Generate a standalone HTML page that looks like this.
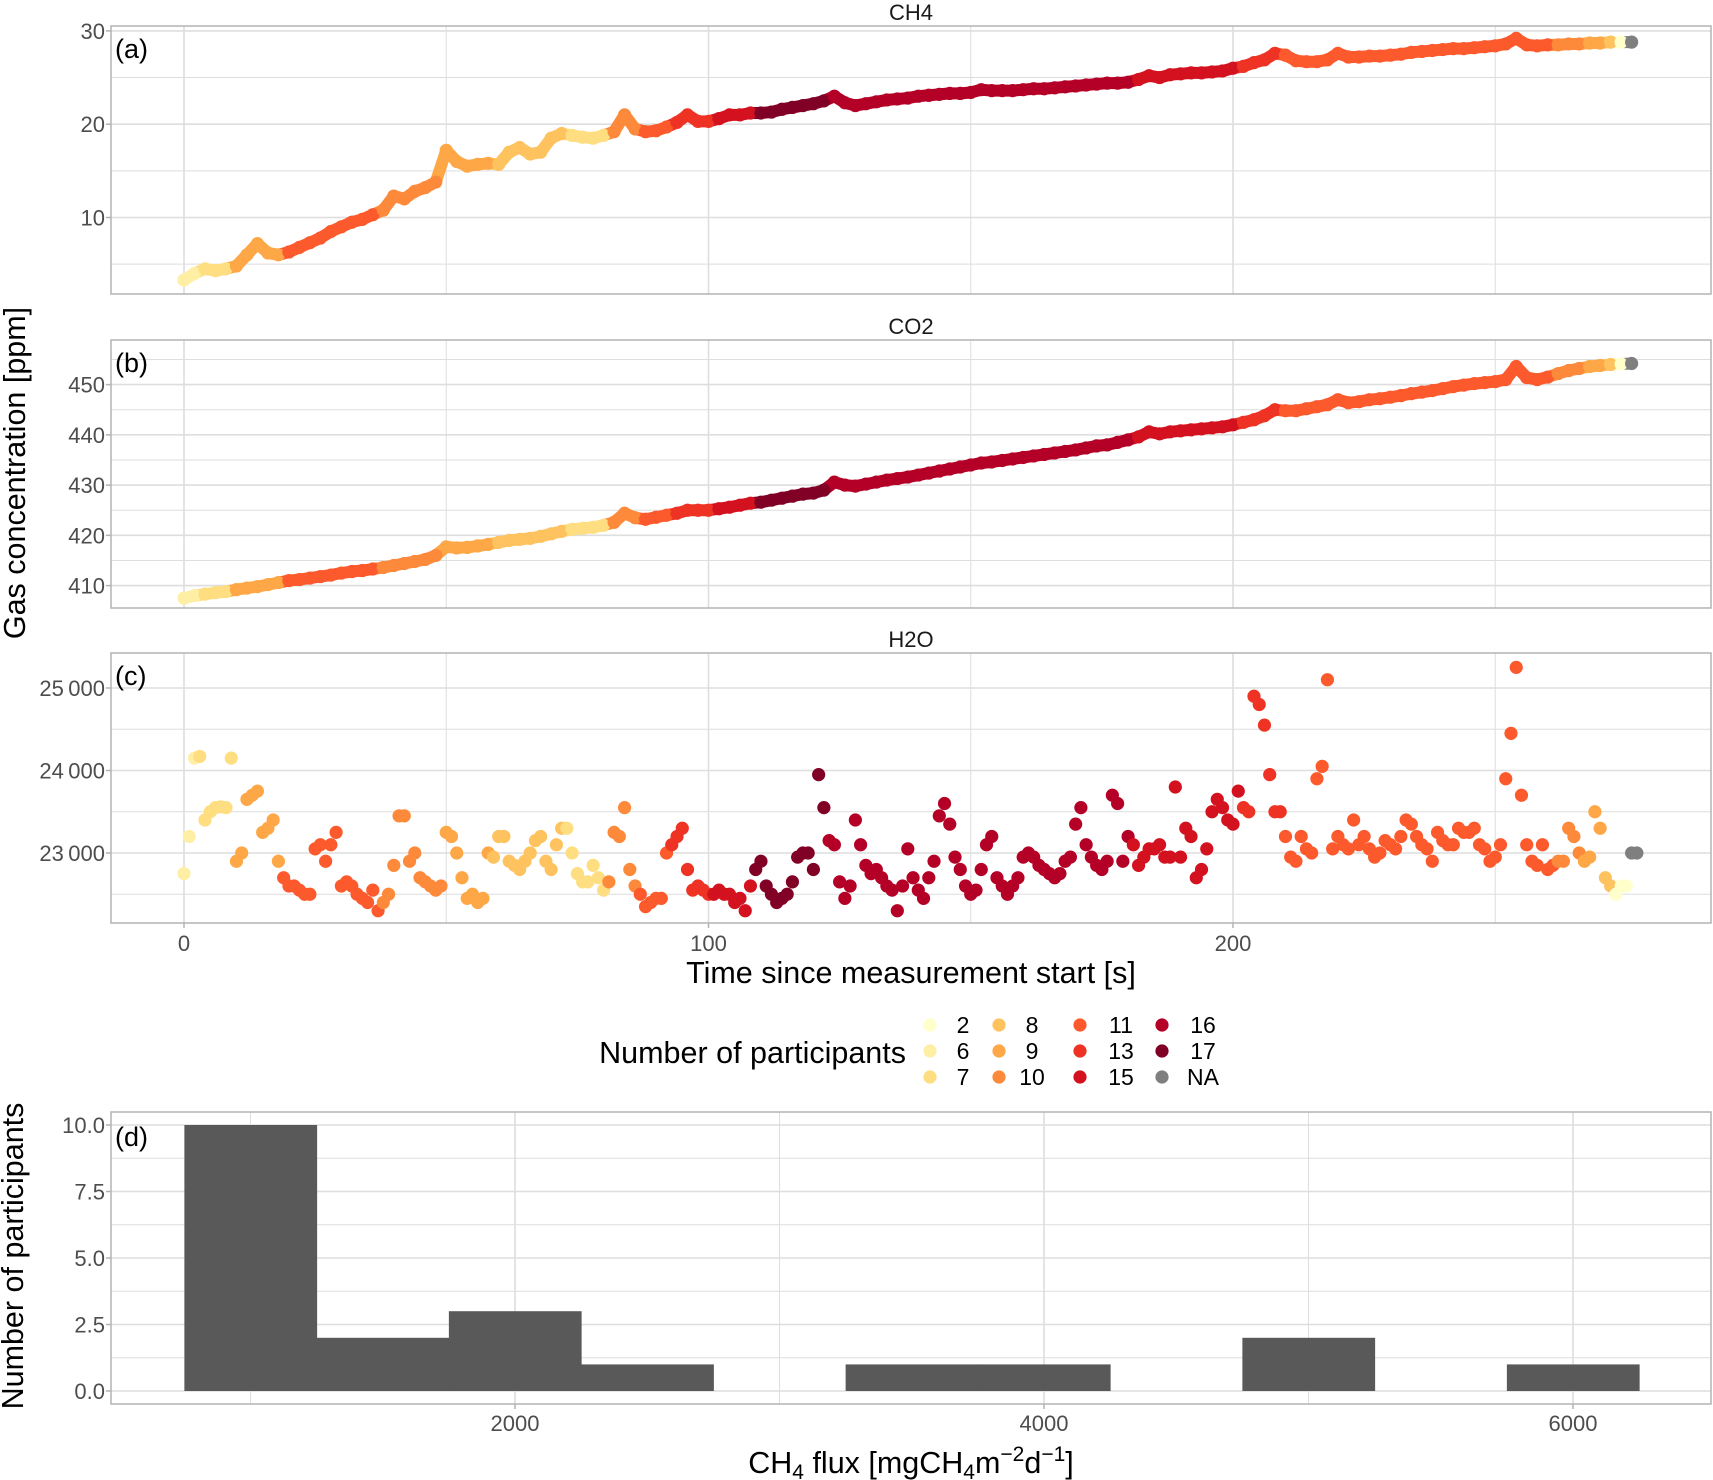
<!DOCTYPE html>
<html><head><meta charset="utf-8">
<style>
html,body{margin:0;padding:0;background:#fff;}
svg{display:block;font-family:"Liberation Sans",sans-serif;}
</style></head>
<body>
<svg id="chart" width="1713" height="1480" viewBox="0 0 1713 1480" xmlns="http://www.w3.org/2000/svg"></svg>
<script>
// ---------- DATA ----------
// CH4 [ppm] sampled every 2 s from t=0
const ch4Values = [3.3,4,4.5,4.3,4.5,4.8,6,7.2,6.2,6,6.3,6.8,7.3,7.8,8.5,9,9.5,9.8,10.3,10.8,12.3,12,12.8,13.2,13.8,17.2,16,15.5,15.7,15.8,15.7,17,17.5,16.8,17,18.5,19,18.8,18.6,18.5,18.8,19.2,21,19.5,19.2,19.3,19.7,20.2,21,20.3,20.3,20.6,21,21,21.2,21.2,21.3,21.6,21.8,22,22.2,22.5,23,22.3,22,22.2,22.4,22.6,22.7,22.8,23,23.1,23.2,23.3,23.3,23.4,23.7,23.6,23.6,23.6,23.7,23.8,23.8,23.9,24,24.1,24.2,24.3,24.4,24.4,24.5,24.8,25.2,25,25.3,25.4,25.5,25.5,25.6,25.7,26,26.2,26.6,26.9,27.6,27.4,26.8,26.7,26.7,26.9,27.6,27.2,27.2,27.3,27.3,27.4,27.5,27.7,27.8,27.9,28,28.1,28.1,28.2,28.3,28.4,28.6,29.2,28.5,28.4,28.5,28.5,28.6,28.6,28.7,28.7,28.8,28.8,28.8];
// CO2 [ppm] sampled every 2 s from t=0
const co2Values = [407.5,408,408.3,408.6,408.8,409.2,409.5,409.8,410.2,410.6,411,411.2,411.5,411.8,412.1,412.5,412.8,413,413.3,413.6,414,414.4,414.8,415.2,416,417.7,417.5,417.6,417.9,418.2,418.6,419,419.2,419.4,419.8,420.3,420.8,421.2,421.4,421.6,422,422.6,424.4,423.5,423.2,423.6,424,424.4,425,425,425,425.3,425.6,426,426.4,426.6,427,427.4,427.8,428.2,428.4,429,430.6,430,429.8,430.2,430.6,431,431.3,431.6,432,432.4,432.8,433.2,433.6,434,434.4,434.6,434.9,435.2,435.5,435.8,436.1,436.4,436.7,437,437.4,437.8,438,438.5,439,439.6,440.6,440.2,440.6,440.8,441,441.2,441.4,441.6,442,442.5,443,443.8,445,444.8,444.8,445.2,445.6,446,447,446.4,446.6,447,447.2,447.5,447.8,448.2,448.5,448.8,449.2,449.6,449.9,450.2,450.4,450.6,451,453.6,451.4,451,451.5,452.2,452.8,453.2,453.6,453.8,454,454.1,454.2];
// H2O [ppm] sampled every 1 s from t=0
const h2oValues = [22750,23200,24150,24170,23400,23500,23550,23560,23550,24150,
22900,23000,23650,23700,23750,23250,23300,23400,22900,22700,
22600,22600,22550,22500,22500,23050,23100,22900,23100,23250,
22600,22650,22600,22500,22450,22400,22550,22300,22400,22500,
22850,23450,23450,22900,23000,22700,22650,22600,22550,22600,
23250,23200,23000,22700,22450,22500,22400,22450,23000,22950,
23200,23200,22900,22850,22800,22900,23000,23150,23200,22900,
22800,23100,23300,23300,23000,22750,22650,22650,22850,22700,
22550,22650,23250,23200,23550,22800,22600,22500,22350,22400,
22450,22450,23000,23100,23200,23300,22800,22550,22600,22550,
22500,22500,22550,22500,22500,22400,22450,22300,22600,22800,
22900,22600,22500,22400,22450,22500,22650,22950,23000,23000,
22800,23950,23550,23150,23100,22650,22450,22600,23400,23100,
22850,22750,22800,22700,22600,22550,22300,22600,23050,22700,
22550,22450,22700,22900,23450,23600,23350,22950,22800,22600,
22500,22550,22800,23100,23200,22700,22600,22500,22600,22700,
22950,23000,22950,22850,22800,22750,22700,22750,22900,22950,
23350,23550,23100,22950,22850,22800,22900,23700,23600,22900,
23200,23100,22850,22950,23050,23050,23100,22950,22950,23800,
22950,23300,23200,22700,22800,23050,23500,23650,23550,23400,
23350,23750,23550,23500,24900,24800,24550,23950,23500,23500,
23200,22950,22900,23200,23050,23000,23900,24050,25100,23050,
23200,23100,23050,23400,23100,23200,23050,22950,23000,23150,
23100,23050,23200,23400,23350,23200,23100,23050,22900,23250,
23150,23100,23100,23300,23250,23250,23300,23100,23050,22900,
22950,23100,23900,24450,25250,23700,23100,22900,22850,23100,
22800,22850,22900,22900,23300,23200,23000,22900,22950,23500,
23300,22700,22600,22500,22600,22600,23000,23000];
// participants: run-length encoded (value, run length in seconds); null = NA
const partRunValues = [6,7,9,11,10,9,8,7,10,11,13,15,17,16,15,13,11,10,9,8,2,null];
const partRunLengths = [3,7,9,19,12,9,14,8,6,6,8,8,14,58,21,8,52,5,4,2,3,2];
// legend categories
const legendLabels = ["2","6","7","8","9","10","11","13","15","16","17","NA"];
const legendColors = ["#FFFFCC","#FFEFA5","#FEDE80","#FEC35F","#FEA746","#FD8A3B","#FC5A2D","#EE3224","#D3111F","#B40026","#800026","#7F7F7F"];
// histogram of CH4 flux
const histBinStart = [750,1250,1750,2250,2750,3250,3750,4250,4750,5250,5750];
const histCounts = [10,2,3,1,0,1,1,0,2,0,1];
const histBinWidth = 500;
// ticks
const timeTicks = [0,100,200];
const timeMinor = [50,150,250];
const ch4Ticks = [10,20,30];
const co2Ticks = [410,420,430,440,450];
const h2oTicks = [23000,24000,25000];
const h2oTickLabels = ["23\u2009000","24\u2009000","25\u2009000"];
const fluxTicks = [2000,4000,6000];
const countTicks = [0,2.5,5,7.5,10];
const countTickLabels = ["0.0","2.5","5.0","7.5","10.0"];

// ---------- HELPERS ----------
const NS = "http://www.w3.org/2000/svg";
const svg = document.getElementById("chart");
function mk(tag, attrs, parent, text){
  const e = document.createElementNS(NS, tag);
  for (const k in attrs) e.setAttribute(k, attrs[k]);
  if (text !== undefined) e.textContent = text;
  (parent || svg).appendChild(e);
  return e;
}
function colorFor(p){
  if (p === null) return "#7F7F7F";
  const i = legendLabels.indexOf(String(p));
  return legendColors[i];
}
const participants = [];
partRunValues.forEach((v,i)=>{ for(let k=0;k<partRunLengths[i];k++) participants.push(v); });
function partAt(t){ const i=Math.min(participants.length-1, Math.max(0, Math.round(t))); return participants[i]; }

const PX0 = 111, PX1 = 1711;
const xTime = t => 184 + t * 5.245;
const GRID = "#DEDEDE", BORDER = "#B3B3B3", TICKC = "#4D4D4D";
const TICKFS = 22, TITLEFS = 30.5;

function panel(name, top, bottom, yScale, majors, majorLabels, minors, stripText, tag, points, connect){
  const g = mk("g", {}, svg);
  
  
  minors.forEach(v=>{ const y=yScale(v); if(y>top&&y<bottom){ const l=mk("line",{x1:PX0,x2:PX1,y1:y,y2:y,stroke:GRID,"stroke-width":1},g);  }});
  timeMinor.forEach(v=>{ const x=xTime(v); const l=mk("line",{x1:x,x2:x,y1:top,y2:bottom,stroke:GRID,"stroke-width":1},g);  });
  majors.forEach(v=>{ const y=yScale(v); const l=mk("line",{x1:PX0,x2:PX1,y1:y,y2:y,stroke:GRID,"stroke-width":1.6},g);  });
  timeTicks.forEach(v=>{ const x=xTime(v); const l=mk("line",{x1:x,x2:x,y1:top,y2:bottom,stroke:GRID,"stroke-width":1.6},g);  });
  if (connect){
    for (let i=1;i<points.length;i++){
      const a=points[i-1], b=points[i];
      const s=mk("line",{x1:xTime(a.t),y1:yScale(a.v),x2:xTime(b.t),y2:yScale(b.v),stroke:colorFor(partAt(b.t)),"stroke-width":12,"stroke-linecap":"round"},g);
      
      
    }
  }
  points.forEach(p=>{
    const c = mk("circle",{cx:xTime(p.t),cy:yScale(p.v),r:6.6,fill:colorFor(partAt(p.t))},g);
    
    
  });
  const b = mk("rect",{x:PX0,y:top,width:PX1-PX0,height:bottom-top,fill:"none",stroke:BORDER,"stroke-width":1.5},g);
  
  
  majors.forEach((v,i)=>{
    const y=yScale(v);
    const tk=mk("line",{x1:PX0-5,x2:PX0,y1:y,y2:y,stroke:"#B3B3B3","stroke-width":1.5},g);
     
    const t=mk("text",{x:PX0-6,y:y+8,"text-anchor":"end","font-size":TICKFS,fill:TICKC},g,majorLabels[i]);
     
  });
  const s = mk("text",{x:911,y:top-6,"text-anchor":"middle","font-size":22,fill:"#1A1A1A"},g,stripText);
   
  const a = mk("text",{x:PX0+4,y:top+32,"font-size":27,fill:"#000"},g,tag);
   
}

// ---------- PANELS ----------
const yCH4 = v => 217.5 - (v-10)*9.33;
const yCO2 = v => 585.6 - (v-410)*5.025;
const yH2O = v => 853 - (v-23000)*0.0825;
panel("ch4", 26, 294, yCH4, ch4Ticks, ch4Ticks.map(String), [5,15,25], "CH4", "(a)", ch4Values.map((v,i)=>({t:i*2,v})), true);
panel("co2", 340, 608, yCO2, co2Ticks, co2Ticks.map(String), [405,415,425,435,445,455], "CO2", "(b)", co2Values.map((v,i)=>({t:i*2,v})), true);
panel("h2o", 653, 923, yH2O, h2oTicks, h2oTickLabels, [22500,23500,24500], "H2O", "(c)", h2oValues.map((v,i)=>({t:i,v})), false);

timeTicks.forEach(v=>{
  const x=xTime(v);
  const tk=mk("line",{x1:x,x2:x,y1:923,y2:928,stroke:"#B3B3B3","stroke-width":1.5});
   
  const t=mk("text",{x:x,y:951,"text-anchor":"middle","font-size":TICKFS,fill:TICKC},svg,String(v));
   
});
const xt = mk("text",{x:911,y:983,"text-anchor":"middle","font-size":TITLEFS,fill:"#000"},svg,"Time since measurement start [s]");
 
const yt = mk("text",{x:0,y:0,"text-anchor":"middle","font-size":TITLEFS,fill:"#000",transform:"translate(25,473) rotate(-90)"},svg,"Gas concentration [ppm]");
 

// ---------- LEGEND ----------
const lg = mk("g",{},svg);


const lt = mk("text",{x:906,y:1063,"text-anchor":"end","font-size":TITLEFS,fill:"#000"},lg,"Number of participants");
 
const colKeyX = [930,999,1080,1162], colLabX = [963,1032,1121,1203], rowY = [1025,1051,1077];
legendLabels.forEach((lab,i)=>{
  const col=Math.floor(i/3), row=i%3;
  const c=mk("circle",{cx:colKeyX[col],cy:rowY[row],r:6.6,fill:legendColors[i]},lg);
   
  const t=mk("text",{x:colLabX[col],y:rowY[row]+8,"text-anchor":"middle","font-size":23,fill:"#000"},lg,lab);
   
});

// ---------- HISTOGRAM ----------
const DT=1112, DB=1404;
const xFlux = v => 515 + (v-2000)*0.2645;
const yCount = v => 1391 - v*26.6;
const hg = mk("g",{},svg);


[1.25,3.75,6.25,8.75].forEach(v=>{ const y=yCount(v); const l=mk("line",{x1:PX0,x2:PX1,y1:y,y2:y,stroke:GRID,"stroke-width":1},hg);  });
[1000,3000,5000].forEach(v=>{ const x=xFlux(v); const l=mk("line",{x1:x,x2:x,y1:DT,y2:DB,stroke:GRID,"stroke-width":1},hg);  });
countTicks.forEach(v=>{ const y=yCount(v); const l=mk("line",{x1:PX0,x2:PX1,y1:y,y2:y,stroke:GRID,"stroke-width":1.6},hg);  });
fluxTicks.forEach(v=>{ const x=xFlux(v); const l=mk("line",{x1:x,x2:x,y1:DT,y2:DB,stroke:GRID,"stroke-width":1.6},hg);  });
histCounts.forEach((c,i)=>{
  if(c<=0) return;
  const x0=xFlux(histBinStart[i]), x1=xFlux(histBinStart[i]+histBinWidth);
  const r=mk("rect",{x:x0,y:yCount(c),width:x1-x0+0.5,height:yCount(0)-yCount(c),fill:"#595959"},hg);
  
  
});
const hb = mk("rect",{x:PX0,y:DT,width:PX1-PX0,height:DB-DT,fill:"none",stroke:BORDER,"stroke-width":1.5},hg);
 
countTicks.forEach((v,i)=>{
  const y=yCount(v);
  const tk=mk("line",{x1:PX0-5,x2:PX0,y1:y,y2:y,stroke:"#B3B3B3","stroke-width":1.5},hg);
   
  const t=mk("text",{x:PX0-6,y:y+8,"text-anchor":"end","font-size":TICKFS,fill:TICKC},hg,countTickLabels[i]);
   
});
fluxTicks.forEach(v=>{
  const x=xFlux(v);
  const tk=mk("line",{x1:x,x2:x,y1:DB,y2:DB+5,stroke:"#B3B3B3","stroke-width":1.5},hg);
   
  const t=mk("text",{x:x,y:1431,"text-anchor":"middle","font-size":TICKFS,fill:TICKC},hg,String(v));
   
});
const dt = mk("text",{x:PX0+4,y:DT+34,"font-size":27,fill:"#000"},hg,"(d)");
 
const ft = mk("text",{x:911,y:1473,"text-anchor":"middle","font-size":TITLEFS,fill:"#000"},svg);
 
ft.innerHTML = 'CH<tspan font-size="21" dy="6">4</tspan><tspan dy="-6"> flux [mgCH</tspan><tspan font-size="21" dy="6">4</tspan><tspan dy="-6">m</tspan><tspan font-size="21" dy="-12">\u22122</tspan><tspan dy="12">d</tspan><tspan font-size="21" dy="-12">\u22121</tspan><tspan dy="12">]</tspan>';
const ct = mk("text",{x:0,y:0,"text-anchor":"middle","font-size":TITLEFS,fill:"#000",transform:"translate(23,1256) rotate(-90)"},svg,"Number of participants");
 
</script>
</body></html>
